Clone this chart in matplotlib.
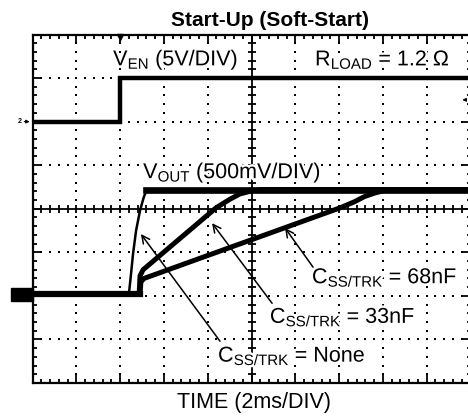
import numpy as np
import matplotlib
matplotlib.use("Agg")
import matplotlib.pyplot as plt
import matplotlib.patheffects as pe

plt.rcParams['font.family'] = ['Liberation Sans', 'DejaVu Sans']
plt.rcParams['mathtext.fontset'] = 'custom'
plt.rcParams['mathtext.rm'] = 'Liberation Sans'
plt.rcParams['mathtext.it'] = 'Liberation Sans:italic'
plt.rcParams['mathtext.bf'] = 'Liberation Sans:bold'

# ---- data (time in ms, voltages in V) ----
ven_t = [0.0, 4.0, 4.0, 20.0]
ven_v = [0.0, 0.0, 5.0, 5.0]

none_t = [0.0, 4.40, 4.49, 4.59, 4.73, 4.91, 5.09, 5.23, 20.0]
none_v = [0.0, 0.0, 0.21, 0.46, 0.73, 0.96, 1.12, 1.20, 1.20]

c33_t = [0.0, 4.87, 4.91, 5.05, 8.38, 9.02, 9.47, 9.93, 10.4, 20.0]
c33_v = [0.0, 0.0, 0.21, 0.28, 0.99, 1.09, 1.15, 1.18, 1.20, 1.20]

c68_t = [0.0, 4.91, 4.95, 5.09, 14.04, 14.70, 15.16, 15.62, 16.07, 16.5, 20.0]
c68_v = [0.0, 0.0, 0.14, 0.18, 0.99, 1.06, 1.12, 1.16, 1.19, 1.20, 1.20]

# scope settings
t_per_div = 2.0          # ms/div
ven_scale, ven_gnd = 5.0, 6.0      # V/div, ground marker (div)
vout_scale, vout_gnd = 0.5, 2.04   # V/div, ground marker (div)

W, H = 468, 416
fig = plt.figure(figsize=(W / 100, H / 100), dpi=100)
L, R, T, B = 32.5, 470.5, 34.5, 383.0
ax = fig.add_axes([L / W, (H - B) / H, (R - L) / W, (B - T) / H])
ax.set_xlim(0, 10 * t_per_div)
ax.set_ylim(0, 8)

def ydiv(v, scale, gnd):
    return gnd + np.asarray(v) / scale

# grid dots
dot_x = np.arange(0, 10.001, 0.2) * t_per_div
dot_y = np.arange(0, 8.001, 0.2)
for k in [1, 2, 3, 5, 6, 7]:
    ax.plot(dot_x, np.full_like(dot_x, k), 's', ms=1.7, mew=0, color='k', zorder=1)
for k in [1, 2, 3, 4, 6, 7, 8, 9]:
    ax.plot(np.full_like(dot_y, k * t_per_div), dot_y, 's', ms=1.7, mew=0, color='k', zorder=1)

# center cross with ticks
ax.axhline(4, color='k', lw=1.3, zorder=1)
ax.axvline(5 * t_per_div, color='k', lw=1.3, zorder=1)
ax.plot(dot_x, np.full_like(dot_x, 4), '|', ms=6, mew=1.3, color='k', zorder=1)
ax.plot(np.full_like(dot_y, 5 * t_per_div), dot_y, '_', ms=6, mew=1.3, color='k', zorder=1)

# traces
ax.plot(ven_t, ydiv(ven_v, ven_scale, ven_gnd), color='k', lw=3.2, solid_joinstyle='miter', zorder=3)
ax.plot(c68_t, ydiv(c68_v, vout_scale, vout_gnd), color='k', lw=3.6, zorder=3)
ax.plot(c33_t, ydiv(c33_v, vout_scale, vout_gnd), color='k', lw=3.6, zorder=3)
ax.plot(none_t, ydiv(none_v, vout_scale, vout_gnd), color='k', lw=1.8, zorder=3)
# thick settled / baseline bands
ax.plot([0, 4.9], [vout_gnd, vout_gnd], color='k', lw=4.5, zorder=3)
ax.plot([5.2, 20], ydiv([1.2, 1.2], vout_scale, vout_gnd), color='k', lw=4.8, zorder=3)

# frame and ticks
for s in ax.spines.values():
    s.set_linewidth(1.6)
ax.set_xticks(np.arange(0, 10.001, 1) * t_per_div)
ax.set_xticks(dot_x, minor=True)
ax.set_yticks(np.arange(0, 8.001, 1))
ax.set_yticks(dot_y, minor=True)
ax.tick_params(which='both', direction='in', top=True, right=True,
               labelbottom=False, labelleft=False, width=1.3, color='k')
ax.tick_params(which='major', length=6)
ax.tick_params(which='minor', length=3)

# labels
fs = 15.5
ko = [pe.withStroke(linewidth=3.5, foreground='white')]
def label(x, y, s):
    ax.text(x, y, s, fontsize=fs, va='baseline', ha='left', zorder=5, path_effects=ko)

label(3.68, 7.29, r'V$_{\mathrm{EN}}$ (5V/DIV)')
label(12.90, 7.29, r'R$_{\mathrm{LOAD}}$ = 1.2 $\Omega$')
label(5.05, 4.70, r'V$_{\mathrm{OUT}}$ (500mV/DIV)')
label(12.76, 2.29, r'C$_{\mathrm{SS/TRK}}$ = 68nF')
label(10.84, 1.38, r'C$_{\mathrm{SS/TRK}}$ = 33nF')
label(8.47, 0.49, r'C$_{\mathrm{SS/TRK}}$ = None')

# arrows
arr = dict(arrowstyle='->', lw=1.1, color='k', shrinkA=0, shrinkB=0, mutation_scale=14)
ax.annotate('', xy=(4.95, 3.42), xytext=(8.56, 0.96), arrowprops=arr, zorder=4)
ax.annotate('', xy=(8.20, 3.67), xytext=(10.94, 1.83), arrowprops=arr, zorder=4)
ax.annotate('', xy=(11.53, 3.56), xytext=(12.81, 2.66), arrowprops=arr, zorder=4)

# channel markers
ax.add_patch(plt.Rectangle((-1.0, vout_gnd - 0.15), 1.0, 0.3, color='k', clip_on=False, zorder=6))
ax.text(-0.5, ven_gnd, '2', fontsize=5, fontweight='bold', ha='right', va='center', clip_on=False)
ax.annotate('', xy=(0, ven_gnd), xytext=(-0.5, ven_gnd),
            arrowprops=dict(arrowstyle='-|>', lw=0.8, color='k', mutation_scale=5), annotation_clip=False)
ax.plot([4.0], [7.95], 'v', ms=4.5, color='k', clip_on=False, zorder=6)
ax.annotate('', xy=(19.5, 6.5), xytext=(19.95, 6.5),
            arrowprops=dict(arrowstyle='-|>', lw=0.8, color='k', mutation_scale=5))

fig.text(270 / W, 1 - 26.5 / H, 'Start-Up (Soft-Start)', fontsize=15, fontweight='bold',
         ha='center', va='baseline')
fig.text(254 / W, 1 - 408 / H, 'TIME (2ms/DIV)', fontsize=fs, ha='center', va='baseline')

fig.savefig('out.png', dpi=100)
